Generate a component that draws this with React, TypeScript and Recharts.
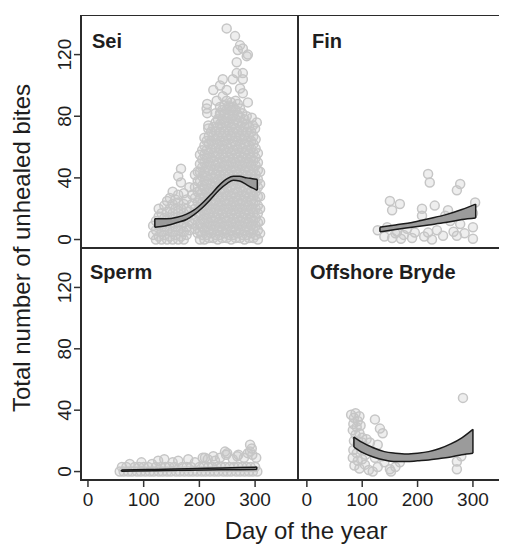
import React from "react";
import {
  ComposedChart,
  Scatter,
  Area,
  XAxis,
  YAxis,
  ReferenceArea,
  ReferenceLine,
} from "recharts";

const FONT = '"Liberation Sans", Arial, sans-serif';
const INK = "#1e1e1e";

const dayTicks = [0, 100, 200, 300];
const biteTicks = [0, 40, 80, 120];
const biteDomain = [-5.5, 145.7];

// Sei: the dense cloud read column by column, [day, bites at that day]
const seiColumns: [number, number[]][] = [
  [117, [3, 9]],
  [122, [0, 6, 12]],
  [127, [2, 9, 15, 20]],
  [132, [0, 5, 11, 17]],
  [137, [3, 8, 14, 22]],
  [142, [0, 6, 11, 18, 25]],
  [147, [2, 9, 14, 20, 27]],
  [152, [0, 5, 11, 17, 23, 31]],
  [157, [3, 8, 14, 20, 26]],
  [162, [0, 6, 11, 17, 24, 29, 41]],
  [167, [2, 9, 14, 20, 37, 46]],
  [172, [0, 5, 11, 17, 23, 30]],
  [177, [3, 8, 14, 20, 26]],
  [182, [6, 12, 18, 34]],
  [187, [10, 16, 23, 29]],
  [192, [7, 13, 20, 27, 34, 42]],
  [197, [4, 10, 17, 24, 31, 38, 44]],
  [201, [0, 5, 10, 16, 21, 27, 32, 38, 44, 49, 55]],
  [205, [3, 8, 13, 19, 24, 30, 35, 41, 47, 52, 58]],
  [209, [0, 6, 11, 16, 22, 27, 33, 38, 44, 50, 55, 61, 66]],
  [213, [3, 8, 14, 19, 25, 30, 36, 41, 47, 53, 58, 64]],
  [217, [1, 6, 11, 17, 22, 28, 33, 39, 45, 50, 56, 62, 67]],
  [221, [4, 9, 14, 20, 25, 31, 36, 42, 48, 53, 59, 64, 70]],
  [225, [1, 6, 12, 17, 23, 28, 34, 40, 45, 51, 56, 62, 67, 73]],
  [229, [3, 9, 14, 20, 25, 31, 37, 42, 48, 54, 59, 65, 70, 76, 82]],
  [233, [0, 6, 11, 17, 22, 28, 34, 39, 45, 50, 56, 62, 67, 73, 78]],
  [237, [3, 8, 14, 19, 25, 31, 36, 42, 47, 53, 59, 64, 70, 75, 81, 86]],
  [241, [1, 6, 11, 17, 22, 28, 33, 39, 45, 50, 56, 61, 67, 73, 78, 84]],
  [245, [4, 9, 14, 20, 25, 31, 36, 42, 48, 53, 59, 64, 70, 76, 81, 87]],
  [249, [1, 6, 12, 17, 23, 28, 34, 39, 45, 51, 56, 62, 67, 73, 79, 84, 90]],
  [253, [3, 9, 14, 20, 25, 31, 37, 42, 48, 53, 59, 65, 70, 76, 81, 87]],
  [257, [0, 6, 11, 17, 22, 28, 34, 39, 45, 50, 56, 62, 67, 73, 78, 84, 89]],
  [261, [3, 8, 14, 19, 25, 30, 36, 42, 47, 53, 58, 64, 70, 75, 81, 86]],
  [265, [1, 6, 11, 17, 22, 28, 33, 39, 45, 50, 56, 61, 67, 72, 78, 84, 90]],
  [269, [4, 9, 14, 20, 25, 31, 36, 42, 48, 53, 59, 64, 70, 76, 81]],
  [273, [1, 6, 12, 17, 23, 28, 34, 39, 45, 51, 56, 62, 67, 73, 79, 85]],
  [277, [3, 9, 14, 20, 25, 31, 37, 42, 48, 53, 59, 65, 70, 76, 82]],
  [281, [0, 6, 11, 17, 22, 28, 34, 39, 45, 50, 56, 62, 67, 73, 78]],
  [285, [3, 8, 14, 19, 25, 30, 36, 42, 47, 53, 58, 64, 70, 75]],
  [289, [1, 6, 11, 17, 22, 28, 33, 39, 45, 50, 56, 61, 67, 73]],
  [293, [4, 9, 14, 20, 25, 31, 36, 42, 48, 53, 59, 64, 70]],
  [297, [1, 6, 12, 17, 23, 28, 34, 39, 45, 51, 56, 62, 67]],
  [301, [3, 9, 14, 20, 25, 31, 37, 42, 48, 53, 59, 65]],
  [305, [0, 6, 11, 17, 22, 28, 34, 39, 45, 50, 56]],
  [309, [4, 12, 20, 28, 36, 44]],
];

// Sei: scattered high counts above the cloud
const seiSparse: [number, number][] = [
  [249, 137], [264, 132], [273, 126], [269, 123], [278, 124], [287, 120],
  [285, 119], [267, 115], [267, 108], [278, 108], [278, 104], [260, 104],
  [242, 104], [237, 100], [225, 97], [273, 98], [249, 97], [278, 95],
  [242, 93], [231, 90], [214, 88], [287, 89], [269, 88], [213, 85],
  [255, 86], [214, 82], [237, 82], [285, 80], [260, 80], [294, 79],
  [216, 74], [296, 74], [216, 72], [300, 72], [303, 76],
];

// [day, lower, upper] of the fitted band
const seiBand: [number, number, number][] = [
  [120, 8, 13.5], [140, 9, 13.5], [160, 11, 14.5], [177, 13, 16.5],
  [190, 16, 19], [205, 20.5, 23.5], [220, 26, 29], [235, 32, 35],
  [250, 36.5, 39.5], [261, 38.5, 41], [272, 38, 41], [285, 35.5, 40],
  [295, 33.5, 39.5], [304, 32, 39],
];

const finPoints: [number, number][] = [
  [128, 6], [140, 2], [145, 8], [150, 25], [154, 19], [154, 1], [160, 4],
  [163, 5], [168, 23], [170, 0.5], [175, 3], [181, 7], [190, 1], [195, 4.5],
  [208, 20], [208, 15.5], [212, 2], [219, 42.5], [219, 4.5], [222, 37],
  [226, 0], [231, 22], [235, 6], [246, 2.5], [250, 15.5], [255, 19],
  [259, 12], [265, 5], [271, 32], [271, 2.5], [277, 36], [277, 10],
  [285, 4], [300, 17], [300, 8], [300, 0.5], [304, 24],
];

const finBand: [number, number, number][] = [
  [132, 5, 8], [160, 6.5, 9.5], [190, 8, 11], [220, 9.5, 13.5],
  [250, 11, 16], [280, 13, 19.5], [305, 14, 23],
];

const spermPoints: [number, number][] = [
  [57, 0], [64, 0], [72, 0], [79, 0], [88, 0], [95, 0], [103, 0], [111, 0],
  [118, 0], [127, 0], [134, 0], [142, 0], [149, 0], [158, 0], [165, 0],
  [173, 0], [181, 0], [188, 0], [196, 0], [204, 0], [211, 0], [219, 0],
  [227, 0], [234, 0], [243, 0], [250, 0], [257, 0], [266, 0], [273, 0],
  [281, 0], [289, 0], [296, 0], [304, 0],
  [61, 3], [69, 3], [84, 3], [92, 3], [100, 3], [108, 3], [122, 3], [131, 3],
  [139, 3], [146, 3], [155, 3], [169, 3], [177, 3], [185, 3], [200, 3],
  [208, 3], [216, 3], [223, 3], [231, 3], [239, 3], [246, 3], [254, 3],
  [262, 3], [270, 3], [277, 3], [285, 3], [292, 3], [300, 3],
  [75, 5], [96, 6], [115, 5], [126, 7], [137, 8], [152, 6], [162, 7],
  [180, 8], [192, 6], [206, 9], [215, 8], [228, 7], [237, 9], [248, 11],
  [260, 8], [268, 10], [280, 9], [287, 12], [295, 11], [302, 9],
  [210, 9], [225, 10], [246, 13], [250, 12], [291, 17.5], [291, 13],
  [294, 15], [270, 11],
];

const spermBand: [number, number, number][] = [
  [60, 0.2, 1.0], [120, 0.6, 1.4], [180, 0.9, 1.9], [240, 1.1, 2.4],
  [303, 1.3, 2.9],
];

const brydePoints: [number, number][] = [
  [80, 37], [85, 35], [88, 38], [92, 33], [95, 36], [84, 31], [90, 29],
  [97, 30], [83, 27], [88, 24], [95, 25], [100, 22], [85, 20], [92, 18],
  [100, 19], [108, 21], [114, 19], [123, 34], [128, 17.5], [132, 28],
  [137, 25], [84, 14], [90, 12], [98, 14], [106, 11], [116, 13], [83, 9],
  [92, 7], [100, 8], [123, 9], [135, 10], [86, 4], [95, 2], [105, 4.5],
  [112, 1], [119, 0], [128, 3], [140, 6], [150, 1.5], [152, 0], [160, 3],
  [168, 6], [271, 6.5], [271, 1.5], [279, 10], [282, 48],
];

const brydeBand: [number, number, number][] = [
  [85, 16, 22.5], [100, 12.5, 19], [120, 9.5, 15.5], [140, 7.5, 13],
  [160, 6.5, 12], [180, 6.5, 11.5], [200, 7, 12], [220, 7.5, 13],
  [240, 8.5, 15], [260, 9.5, 18], [280, 11, 22], [300, 12, 27.5],
];

const toPoints = (pairs: [number, number][]) =>
  pairs.map(([day, bites]) => ({ day, bites }));

const seiPoints = [
  ...seiColumns.flatMap(([day, vals]) => vals.map((bites) => ({ day, bites }))),
  ...toPoints(seiSparse),
];

const Ring = (props: any) => (
  <circle
    cx={props.cx}
    cy={props.cy}
    r={4.5}
    fill="#c6c6c6"
    fillOpacity={0.3}
    stroke="#c6c6c6"
    strokeWidth={1.5}
  />
);

const RotTick = (props: any) => {
  const { x, y, payload } = props;
  return (
    <text
      x={x}
      y={y}
      transform={`rotate(-90 ${x} ${y})`}
      textAnchor="middle"
      fontSize={19}
      fill={INK}
      fontFamily={FONT}
    >
      {payload.value}
    </text>
  );
};

interface PanelProps {
  points: { day: number; bites: number }[];
  band: [number, number, number][];
  xDomain: number[];
  showX: boolean;
  showY: boolean;
  plotH: number;
}

const Panel = ({ points, band, xDomain, showX, showY, plotH }: PanelProps) => {
  const bandData = band.map(([day, lo, hi]) => ({ day, range: [lo, hi] }));
  const first = band[0];
  const last = band[band.length - 1];
  const yW = showY ? 50 : 0;
  const xH = showX ? 40 : 0;
  return (
    <ComposedChart
      width={217 + yW}
      height={plotH + xH}
      margin={{ top: 0, right: 0, bottom: 0, left: 0 }}
    >
      <XAxis
        type="number"
        dataKey="day"
        domain={xDomain}
        ticks={dayTicks}
        interval={0}
        allowDataOverflow
        hide={!showX}
        height={40}
        tickSize={7}
        tickMargin={6}
        axisLine={false}
        tickLine={{ stroke: "#333", strokeWidth: 1.5 }}
        tick={{ fontSize: 19, fill: INK, fontFamily: FONT }}
      />
      <YAxis
        type="number"
        dataKey="bites"
        domain={biteDomain}
        ticks={biteTicks}
        interval={0}
        allowDataOverflow
        hide={!showY}
        width={50}
        tickSize={7}
        tickMargin={3}
        axisLine={false}
        tickLine={{ stroke: "#333", strokeWidth: 1.5 }}
        tick={<RotTick />}
      />
      <Scatter data={points} shape={Ring} isAnimationActive={false} />
      <Area
        data={bandData}
        dataKey="range"
        type="monotone"
        stroke="#1a1a1a"
        strokeWidth={1.5}
        fill="#9b9b9b"
        fillOpacity={1}
        dot={false}
        activeDot={false}
        isAnimationActive={false}
        zIndex={700}
      />
      <ReferenceLine
        segment={[{ x: first[0], y: first[1] }, { x: first[0], y: first[2] }]}
        stroke="#1a1a1a"
        strokeWidth={1.5}
        zIndex={710}
      />
      <ReferenceLine
        segment={[{ x: last[0], y: last[1] }, { x: last[0], y: last[2] }]}
        stroke="#1a1a1a"
        strokeWidth={1.5}
        zIndex={710}
      />
      <ReferenceArea
        x1={xDomain[0]}
        x2={xDomain[1]}
        y1={biteDomain[0]}
        y2={biteDomain[1]}
        fill="none"
        stroke="#2b2b2b"
        strokeWidth={2}
        zIndex={800}
      />
    </ComposedChart>
  );
};

const leftDomain = [-12.5, 377];
const rightDomain = [-16, 376];

const labelStyle = { fontFamily: FONT, fontSize: 20, fontWeight: 700, fill: INK };

export default function App() {
  return (
    <div
      style={{
        position: "relative",
        width: 499,
        height: 536,
        overflow: "hidden",
        fontFamily: FONT,
        background: "#fff",
      }}
    >
      <div style={{ position: "absolute", left: 23, top: 7 }}>
        <Panel points={seiPoints} band={seiBand} xDomain={leftDomain} showX={false} showY plotH={233} />
      </div>
      <div style={{ position: "absolute", left: 290, top: 7 }}>
        <Panel points={toPoints(finPoints)} band={finBand} xDomain={rightDomain} showX={false} showY={false} plotH={233} />
      </div>
      <div style={{ position: "absolute", left: 23, top: 240 }}>
        <Panel points={toPoints(spermPoints)} band={spermBand} xDomain={leftDomain} showX showY plotH={232} />
      </div>
      <div style={{ position: "absolute", left: 290, top: 240 }}>
        <Panel points={toPoints(brydePoints)} band={brydeBand} xDomain={rightDomain} showX showY={false} plotH={232} />
      </div>
      <svg
        width={499}
        height={536}
        style={{ position: "absolute", left: 0, top: 0, pointerEvents: "none" }}
      >
        <text x={84} y={40} {...labelStyle}>Sei</text>
        <text x={304} y={40} {...labelStyle}>Fin</text>
        <text x={82} y={271} {...labelStyle}>Sperm</text>
        <text x={302} y={271} {...labelStyle}>Offshore Bryde</text>
        <text x={298} y={531} textAnchor="middle" fontFamily={FONT} fontSize={24} fill={INK}>
          Day of the year
        </text>
        <text
          x={22}
          y={240}
          transform="rotate(-90 22 240)"
          textAnchor="middle"
          fontFamily={FONT}
          fontSize={24}
          fill={INK}
        >
          Total number of unhealed bites
        </text>
      </svg>
    </div>
  );
}
